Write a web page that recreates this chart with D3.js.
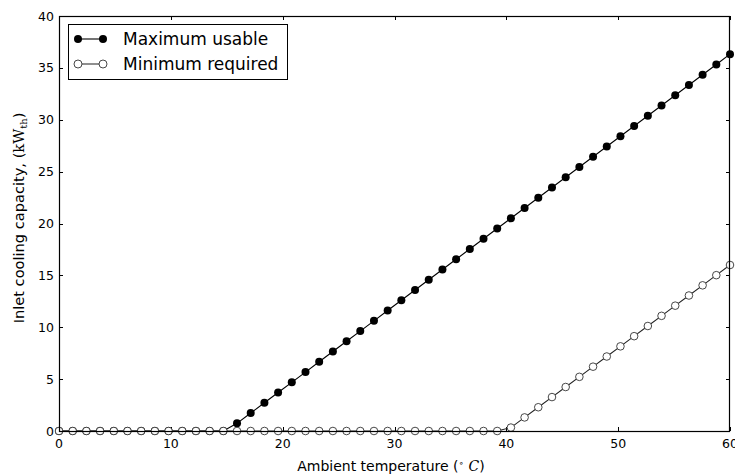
<!DOCTYPE html>
<html><head><meta charset="utf-8">
<script src="https://cdn.jsdelivr.net/npm/d3@7"></script>
<style>body{margin:0;background:#fff}svg{display:block}text{font-family:"DejaVu Sans",sans-serif}</style>
</head><body>
<svg id="c" width="735" height="476"></svg>
<script>
const temps = [0,1.2245,2.449,3.673,4.898,6.122,7.347,8.571,9.796,11.020,12.245,13.469,14.694,15.918,17.143,18.367,19.592,20.816,22.041,23.265,24.490,25.714,26.939,28.163,29.388,30.612,31.837,33.061,34.286,35.510,36.735,37.959,39.184,40.408,41.633,42.857,44.082,45.306,46.531,47.755,48.980,50.204,51.429,52.653,53.878,55.102,56.327,57.551,58.776,60];
const maxUsable = [0,0,0,0,0,0,0,0,0,0,0,0,0,0.74,1.73,2.72,3.71,4.69,5.68,6.67,7.66,8.65,9.63,10.62,11.61,12.60,13.59,14.58,15.56,16.55,17.54,18.53,19.52,20.50,21.49,22.48,23.47,24.46,25.45,26.43,27.42,28.41,29.40,30.39,31.37,32.36,33.35,34.34,35.33,36.32];
const minRequired = [0,0,0,0,0,0,0,0,0,0,0,0,0,0,0,0,0,0,0,0,0,0,0,0,0,0,0,0,0,0,0,0,0,0.33,1.31,2.29,3.27,4.24,5.22,6.20,7.18,8.16,9.14,10.12,11.10,12.08,13.06,14.04,15.02,16.00];
const xTicks = [0,10,20,30,40,50,60];
const yTicks = [0,5,10,15,20,25,30,35,40];
const seriesNames = ["Maximum usable","Minimum required"];

const svg = d3.select("#c");
const L=59, R=730, T=16, B=431;
const x = d3.scaleLinear().domain([0,60]).range([L,R]);
const y = d3.scaleLinear().domain([0,40]).range([B,T]);

// ticks (inside, all sides)
const tl = 4;
const tg = svg.append("g").attr("stroke","#000").attr("stroke-width",1);
xTicks.forEach(v=>{
  const px = Math.round(x(v))+0.5;
  tg.append("line").attr("x1",px).attr("x2",px).attr("y1",B).attr("y2",B-tl);
  tg.append("line").attr("x1",px).attr("x2",px).attr("y1",T).attr("y2",T+tl);
});
yTicks.forEach(v=>{
  const py = Math.round(y(v))+0.5;
  tg.append("line").attr("x1",L).attr("x2",L+tl).attr("y1",py).attr("y2",py);
  tg.append("line").attr("x1",R).attr("x2",R-tl).attr("y1",py).attr("y2",py);
});
xTicks.forEach(v=>{
  svg.append("text").attr("x",x(v)).attr("y",B+17).attr("text-anchor","middle")
    .attr("font-size",12.5).attr("fill","#000").text(v);
});
yTicks.forEach(v=>{
  svg.append("text").attr("x",L-5).attr("y",y(v)+4.5).attr("text-anchor","end")
    .attr("font-size",12.5).attr("fill","#000").text(v);
});

// lines
const line = (vals)=>d3.line().x((d,i)=>x(temps[i])).y(d=>y(d))(vals);
svg.append("path").attr("d",line(maxUsable)).attr("fill","none").attr("stroke","#000").attr("stroke-width",1.1);
svg.selectAll(".mx").data(maxUsable).enter().append("circle")
  .attr("cx",(d,i)=>x(temps[i])).attr("cy",d=>y(d)).attr("r",4).attr("fill","#000");
svg.append("path").attr("d",line(minRequired)).attr("fill","none").attr("stroke","#222").attr("stroke-width",1.1);
svg.selectAll(".mn").data(minRequired).enter().append("circle")
  .attr("cx",(d,i)=>x(temps[i])).attr("cy",d=>y(d)).attr("r",3.8).attr("fill","#fff").attr("stroke","#333").attr("stroke-width",0.9);

// frame
svg.append("rect").attr("x",L+0.5).attr("y",T+0.5).attr("width",R-L-1).attr("height",B-T)
  .attr("fill","none").attr("stroke","#000").attr("stroke-width",1.2);

// legend
const lg = svg.append("g");
lg.append("rect").attr("x",68.5).attr("y",24.5).attr("width",219).attr("height",55)
  .attr("fill","#fff").attr("stroke","#000").attr("stroke-width",1);
[0,1].forEach(i=>{
  const yy = 39 + i*25;
  lg.append("line").attr("x1",78).attr("x2",103).attr("y1",yy).attr("y2",yy).attr("stroke",i?"#333":"#000").attr("stroke-width",1.1);
  [78,103].forEach(cx=>{
    const c = lg.append("circle").attr("cx",cx).attr("cy",yy).attr("r",4);
    if(i===0) c.attr("fill","#000"); else c.attr("fill","#fff").attr("stroke","#333").attr("stroke-width",0.9);
  });
  lg.append("text").attr("x",123).attr("y",yy+6).attr("font-size",17).attr("fill","#000").text(seriesNames[i]);
});

// axis labels
const xl = svg.append("text").attr("x",391).attr("y",471).attr("text-anchor","middle").attr("font-size",14).attr("fill","#000");
xl.append("tspan").text("Ambient temperature (");
xl.append("tspan").attr("font-size",9).attr("dy",-5).text("∘");
xl.append("tspan").attr("dy",5).text(" ");
xl.append("tspan").attr("font-family","DejaVu Serif").attr("font-style","italic").text("C");
xl.append("tspan").text(")");

const yl = svg.append("text").attr("transform","translate(24,218) rotate(-90)").attr("text-anchor","middle").attr("font-size",14.6).attr("fill","#000");
yl.append("tspan").text("Inlet cooling capacity, (");
yl.append("tspan").attr("font-family","DejaVu Serif").text("kW");
yl.append("tspan").attr("font-family","DejaVu Serif").attr("font-size",10).attr("dy",3).text("th");
yl.append("tspan").attr("dy",-3).text(")");
</script>
</body></html>
